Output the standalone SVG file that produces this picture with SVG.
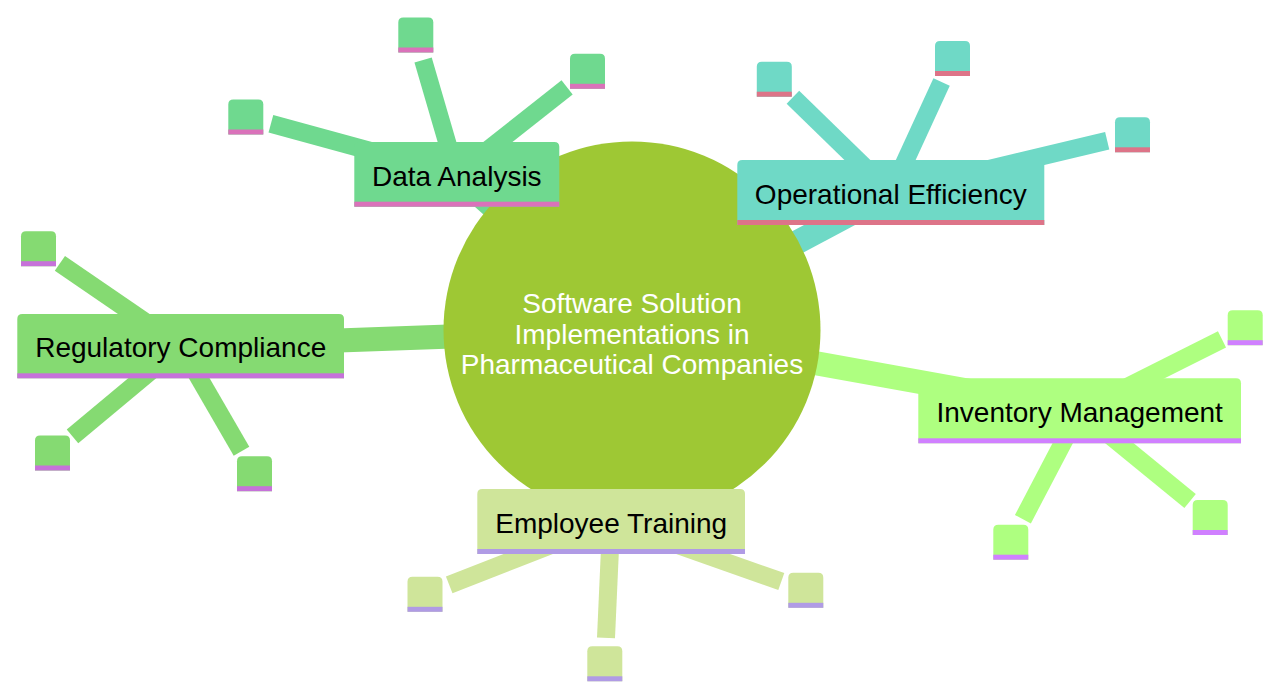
<svg xmlns="http://www.w3.org/2000/svg" width="1280" height="697" viewBox="0 0 1280 697">
<style>
.e1{stroke-width:24;fill:none;stroke-linecap:butt}
.e2{stroke-width:18;fill:none;stroke-linecap:butt}
.lbl{font-family:"Liberation Sans",Arial,sans-serif;font-size:28px;fill:#000;text-anchor:middle}
.ctr{font-family:"Liberation Sans",Arial,sans-serif;font-size:28px;fill:#fff;text-anchor:middle}
.da{fill:#6fd98f;stroke:#6fd98f}.das{fill:#da72ba}
.oe{fill:#6fd9c6;stroke:#6fd9c6}.oes{fill:#dd7488}
.rc{fill:#85da72;stroke:#85da72}.rcs{fill:#c672d9}
.im{fill:#aeff80;stroke:#aeff80}.ims{fill:#d080ff}
.et{fill:#cfe59a;stroke:#cfe59a}.ets{fill:#b09be5}
.n{stroke:none}
</style>
<defs>
<path id="leaf" d="M0,35 V5 Q0,0 5,0 H30 Q35,0 35,5 V35 Z"/>
</defs>
<g id="connectors">
<line class="e1 da" x1="632" y1="330" x2="456.5" y2="174.5"/>
<line class="e1 oe" x1="632" y1="330" x2="890.8" y2="192.5"/>
<line class="e1 rc" x1="632" y1="330" x2="180.7" y2="346.2"/>
<line class="e1 im" x1="632" y1="330" x2="1079.7" y2="410.8"/>
<line class="e1 et" x1="632" y1="330" x2="611.2" y2="521.5"/>
<line class="e2 da" x1="456.5" y1="174.5" x2="270.9" y2="123.8"/>
<line class="e2 da" x1="456.5" y1="174.5" x2="423.1" y2="60"/>
<line class="e2 da" x1="456.5" y1="174.5" x2="567.1" y2="87.4"/>
<line class="e2 oe" x1="890.8" y1="192.5" x2="792.9" y2="97.3"/>
<line class="e2 oe" x1="890.8" y1="192.5" x2="941.6" y2="82.1"/>
<line class="e2 oe" x1="890.8" y1="192.5" x2="1107.2" y2="140.8"/>
<line class="e2 rc" x1="180.7" y1="346.2" x2="59.9" y2="263.4"/>
<line class="e2 rc" x1="180.7" y1="346.2" x2="72.5" y2="436.4"/>
<line class="e2 rc" x1="180.7" y1="346.2" x2="241.5" y2="451.2"/>
<line class="e2 im" x1="1079.7" y1="410.8" x2="1222" y2="339.4"/>
<line class="e2 im" x1="1079.7" y1="410.8" x2="1022.9" y2="519.2"/>
<line class="e2 im" x1="1079.7" y1="410.8" x2="1190.1" y2="501"/>
<line class="e2 et" x1="611.2" y1="521.5" x2="449.2" y2="584.8"/>
<line class="e2 et" x1="611.2" y1="521.5" x2="606" y2="637.8"/>
<line class="e2 et" x1="611.2" y1="521.5" x2="781.3" y2="581.6"/>
</g>
<g id="root">
<circle cx="632" cy="330" r="188.5" fill="#9ec834"/>
<text class="ctr" x="632" y="313">Software Solution</text>
<text class="ctr" x="632" y="343.5">Implementations in</text>
<text class="ctr" x="632" y="374">Pharmaceutical Companies</text>
</g>
<g id="data-analysis">
<path class="da n" d="M354.3,206.7 V147 Q354.3,142 359.3,142 H554.3 Q559.3,142 559.3,147 V206.7 Z"/>
<rect class="das" x="354.3" y="201.7" width="205" height="5"/>
<text class="lbl" x="456.8" y="185.7">Data Analysis</text>
</g>
<g id="operational-efficiency">
<path class="oe n" d="M737.3,225 V165 Q737.3,160 742.3,160 H1039.3 Q1044.3,160 1044.3,165 V225 Z"/>
<rect class="oes" x="737.3" y="220" width="307" height="5"/>
<text class="lbl" x="890.8" y="204">Operational Efficiency</text>
</g>
<g id="regulatory-compliance">
<path class="rc n" d="M17.3,378.3 V319 Q17.3,314 22.3,314 H339 Q344,314 344,319 V378.3 Z"/>
<rect class="rcs" x="17.3" y="373.3" width="326.7" height="5"/>
<text class="lbl" x="180.7" y="357">Regulatory Compliance</text>
</g>
<g id="inventory-management">
<path class="im n" d="M918.3,443.3 V383.3 Q918.3,378.3 923.3,378.3 H1236 Q1241,378.3 1241,383.3 V443.3 Z"/>
<rect class="ims" x="918.3" y="438.3" width="322.7" height="5"/>
<text class="lbl" x="1079.7" y="422">Inventory Management</text>
</g>
<g id="employee-training">
<path class="et n" d="M477.3,554 V494 Q477.3,489 482.3,489 H740 Q745,489 745,494 V554 Z"/>
<rect class="ets" x="477.3" y="549" width="267.7" height="5"/>
<text class="lbl" x="611.2" y="533">Employee Training</text>
</g>
<g id="leaf-da-1" transform="translate(228.3,99.5)"><use href="#leaf" class="da n"/><rect class="das" y="30" width="35" height="5"/></g>
<g id="leaf-da-2" transform="translate(398.3,17.5)"><use href="#leaf" class="da n"/><rect class="das" y="30" width="35" height="5"/></g>
<g id="leaf-da-3" transform="translate(570,53.8)"><use href="#leaf" class="da n"/><rect class="das" y="30" width="35" height="5"/></g>
<g id="leaf-oe-1" transform="translate(756.8,61.7)"><use href="#leaf" class="oe n"/><rect class="oes" y="30" width="35" height="5"/></g>
<g id="leaf-oe-2" transform="translate(935,41)"><use href="#leaf" class="oe n"/><rect class="oes" y="30" width="35" height="5"/></g>
<g id="leaf-oe-3" transform="translate(1115,117.3)"><use href="#leaf" class="oe n"/><rect class="oes" y="30" width="35" height="5"/></g>
<g id="leaf-rc-1" transform="translate(21,231.2)"><use href="#leaf" class="rc n"/><rect class="rcs" y="30" width="35" height="5"/></g>
<g id="leaf-rc-2" transform="translate(35,435.5)"><use href="#leaf" class="rc n"/><rect class="rcs" y="30" width="35" height="5"/></g>
<g id="leaf-rc-3" transform="translate(237,456.2)"><use href="#leaf" class="rc n"/><rect class="rcs" y="30" width="35" height="5"/></g>
<g id="leaf-im-1" transform="translate(1227.7,310.2)"><use href="#leaf" class="im n"/><rect class="ims" y="30" width="35" height="5"/></g>
<g id="leaf-im-2" transform="translate(993.3,524.7)"><use href="#leaf" class="im n"/><rect class="ims" y="30" width="35" height="5"/></g>
<g id="leaf-im-3" transform="translate(1192.7,500)"><use href="#leaf" class="im n"/><rect class="ims" y="30" width="35" height="5"/></g>
<g id="leaf-et-1" transform="translate(407.5,576.8)"><use href="#leaf" class="et n"/><rect class="ets" y="30" width="35" height="5"/></g>
<g id="leaf-et-2" transform="translate(587.3,646.3)"><use href="#leaf" class="et n"/><rect class="ets" y="30" width="35" height="5"/></g>
<g id="leaf-et-3" transform="translate(788.3,572.8)"><use href="#leaf" class="et n"/><rect class="ets" y="30" width="35" height="5"/></g>
</svg>
